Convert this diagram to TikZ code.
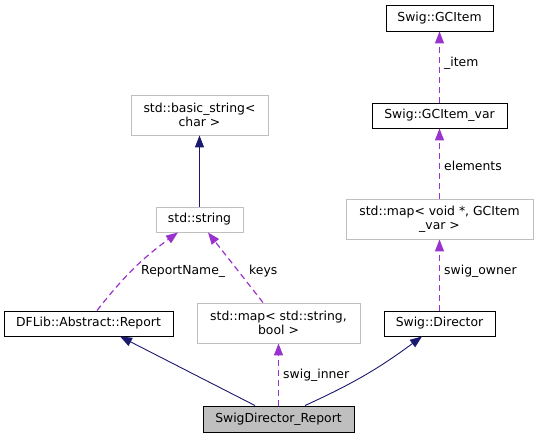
\documentclass[tikz,border=0pt]{standalone}
\usepackage{fontspec}
\setmainfont{DejaVu Sans}
\usepackage{tikz}
\usetikzlibrary{arrows.meta,positioning}
\definecolor{inheritline}{RGB}{25,25,112}
\definecolor{memberline}{RGB}{154,50,205}
\definecolor{extline}{RGB}{191,191,191}
\definecolor{mainbg}{RGB}{191,191,191}
\newcommand{\diagramfont}{\fontsize{12.4}{14}\selectfont}
\tikzset{
  classbox/.style={draw=black, fill=white, line width=0.9pt,
    align=center, inner sep=0pt, minimum height=25pt, font=\diagramfont},
  extbox/.style={classbox, draw=extline},
  mainbox/.style={classbox, fill=mainbg},
  memberlabel/.style={font=\diagramfont, anchor=west, inner sep=0pt},
  inherit/.style={-{Triangle[length=12pt,width=9pt]}, draw=inheritline,
    line width=0.9pt},
  member/.style={-{Triangle[length=12pt,width=9pt]}, draw=memberline,
    line width=1.2pt, dash pattern=on 6pt off 4pt}
}

\begin{document}
\begin{tikzpicture}[x=1pt, y=1pt]
  \useasboundingbox (0,0) rectangle (539,439);
  \node[mainbox, minimum width=151pt, minimum height=26pt] (report)
    at (278.5,20) {SwigDirector\_Report};
  \node[classbox, minimum width=169pt] (dflib)
    at (88.5,115.5) {DFLib::Abstract::Report};
  \node[extbox, minimum width=163pt, minimum height=40pt] (mapss)
    at (278.5,116) {std::map< std::string,\\bool >};
  \node[classbox, minimum width=111pt] (director)
    at (439.5,115.5) {Swig::Director};
  \node[extbox, minimum width=87pt] (string)
    at (199.5,219.5) {std::string};
  \node[extbox, minimum width=137pt, minimum height=40pt] (basicstr)
    at (199.5,324) {std::basic\_string<\\char >};
  \node[extbox, minimum width=187pt, minimum height=40pt] (mapvoid)
    at (439.5,220) {std::map< void *, GCItem\\\_var >};
  \node[classbox, minimum width=135pt] (gcitemvar)
    at (439.5,323.5) {Swig::GCItem\_var};
  \node[classbox, minimum width=107pt, minimum height=26pt] (gcitem)
    at (439.5,421) {Swig::GCItem};
  % edge labels
  \node[memberlabel] (innerlbl) at (283,64) {swig\_inner};
  \node[memberlabel] (namelbl) at (141,168) {ReportName\_};
  \node[memberlabel] (keyslbl) at (249,168) {keys};
  \node[memberlabel] (ownerlbl) at (444,168) {swig\_owner};
  \node[memberlabel] (elemlbl) at (444,273) {elements};
  \node[memberlabel] (itemlbl) at (444,376) {\_item};
  % inheritance
  \draw[inherit] ([xshift=-23.5pt]report.north) -- ([xshift=31.5pt]dflib.south);
  \draw[inherit] ([xshift=26.5pt]report.north) to[bend right=6]
    ([xshift=-17.5pt]director.south);
  \draw[inherit] (string) -- (basicstr);
  % members
  \draw[member] (report) -- (mapss);
  \draw[member] ([xshift=8.5pt]dflib.north) to[bend left=8]
    ([xshift=-21.5pt]string.south);
  \draw[member] ([xshift=-15.5pt]mapss.north) -- ([xshift=8.5pt]string.south);
  \draw[member] (director) -- (mapvoid);
  \draw[member] (mapvoid) -- (gcitemvar);
  \draw[member] (gcitemvar) -- (gcitem);
\end{tikzpicture}
\end{document}
